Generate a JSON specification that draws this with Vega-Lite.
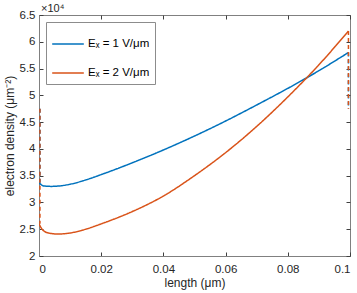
{
  "$schema": "https://vega.github.io/schema/vega-lite/v6.json",
  "width": 311,
  "height": 241,
  "autosize": "none",
  "padding": {"left": 39, "top": 15, "right": 7, "bottom": 37},
  "background": "white",
  "config": {
    "font": "Liberation Sans",
    "view": {"stroke": "#808080", "strokeWidth": 1},
    "axis": {
      "grid": false,
      "domainColor": "#808080",
      "tickColor": "#404040",
      "tickSize": -4,
      "labelColor": "#262626",
      "titleColor": "#262626",
      "labelFontSize": 11.5,
      "titleFontSize": 12,
      "titleFontWeight": "normal",
      "labelFont": "Liberation Sans",
      "titleFont": "Liberation Sans"
    }
  },
  "title": {
    "text": "×10⁴",
    "anchor": "start",
    "frame": "group",
    "fontSize": 11,
    "fontWeight": "normal",
    "color": "#262626",
    "font": "Liberation Sans",
    "offset": 3,
    "dx": 2,
    "dy": 8
  },
  "data": {
    "values": [
      {"x": 0, "y": 3.37, "series": "Eₓ = 1 V/μm", "seg": "main", "style": "solid"},
      {"x": 0.001, "y": 3.32, "series": "Eₓ = 1 V/μm", "seg": "main", "style": "solid"},
      {"x": 0.002, "y": 3.305, "series": "Eₓ = 1 V/μm", "seg": "main", "style": "solid"},
      {"x": 0.004, "y": 3.3, "series": "Eₓ = 1 V/μm", "seg": "main", "style": "solid"},
      {"x": 0.006, "y": 3.305, "series": "Eₓ = 1 V/μm", "seg": "main", "style": "solid"},
      {"x": 0.01, "y": 3.34, "series": "Eₓ = 1 V/μm", "seg": "main", "style": "solid"},
      {"x": 0.015, "y": 3.42, "series": "Eₓ = 1 V/μm", "seg": "main", "style": "solid"},
      {"x": 0.02, "y": 3.52, "series": "Eₓ = 1 V/μm", "seg": "main", "style": "solid"},
      {"x": 0.03, "y": 3.74, "series": "Eₓ = 1 V/μm", "seg": "main", "style": "solid"},
      {"x": 0.04, "y": 3.98, "series": "Eₓ = 1 V/μm", "seg": "main", "style": "solid"},
      {"x": 0.05, "y": 4.24, "series": "Eₓ = 1 V/μm", "seg": "main", "style": "solid"},
      {"x": 0.06, "y": 4.52, "series": "Eₓ = 1 V/μm", "seg": "main", "style": "solid"},
      {"x": 0.07, "y": 4.82, "series": "Eₓ = 1 V/μm", "seg": "main", "style": "solid"},
      {"x": 0.08, "y": 5.13, "series": "Eₓ = 1 V/μm", "seg": "main", "style": "solid"},
      {"x": 0.09, "y": 5.46, "series": "Eₓ = 1 V/μm", "seg": "main", "style": "solid"},
      {"x": 0.0995, "y": 5.8, "series": "Eₓ = 1 V/μm", "seg": "main", "style": "solid"},
      {"x": 0.0003, "y": 4.75, "series": "Eₓ = 1 V/μm", "seg": "left", "style": "dash"},
      {"x": 0.0003, "y": 3.37, "series": "Eₓ = 1 V/μm", "seg": "left", "style": "dash"},
      {"x": 0.0995, "y": 5.8, "series": "Eₓ = 1 V/μm", "seg": "right", "style": "dash"},
      {"x": 0.0995, "y": 4.75, "series": "Eₓ = 1 V/μm", "seg": "right", "style": "dash"},
      {"x": 0, "y": 2.6, "series": "Eₓ = 2 V/μm", "seg": "main", "style": "solid"},
      {"x": 0.001, "y": 2.5, "series": "Eₓ = 2 V/μm", "seg": "main", "style": "solid"},
      {"x": 0.003, "y": 2.43, "series": "Eₓ = 2 V/μm", "seg": "main", "style": "solid"},
      {"x": 0.006, "y": 2.41, "series": "Eₓ = 2 V/μm", "seg": "main", "style": "solid"},
      {"x": 0.01, "y": 2.43, "series": "Eₓ = 2 V/μm", "seg": "main", "style": "solid"},
      {"x": 0.015, "y": 2.5, "series": "Eₓ = 2 V/μm", "seg": "main", "style": "solid"},
      {"x": 0.02, "y": 2.6, "series": "Eₓ = 2 V/μm", "seg": "main", "style": "solid"},
      {"x": 0.03, "y": 2.83, "series": "Eₓ = 2 V/μm", "seg": "main", "style": "solid"},
      {"x": 0.04, "y": 3.12, "series": "Eₓ = 2 V/μm", "seg": "main", "style": "solid"},
      {"x": 0.05, "y": 3.5, "series": "Eₓ = 2 V/μm", "seg": "main", "style": "solid"},
      {"x": 0.06, "y": 3.93, "series": "Eₓ = 2 V/μm", "seg": "main", "style": "solid"},
      {"x": 0.07, "y": 4.42, "series": "Eₓ = 2 V/μm", "seg": "main", "style": "solid"},
      {"x": 0.08, "y": 4.97, "series": "Eₓ = 2 V/μm", "seg": "main", "style": "solid"},
      {"x": 0.09, "y": 5.57, "series": "Eₓ = 2 V/μm", "seg": "main", "style": "solid"},
      {"x": 0.0995, "y": 6.2, "series": "Eₓ = 2 V/μm", "seg": "main", "style": "solid"},
      {"x": 0.0003, "y": 4.75, "series": "Eₓ = 2 V/μm", "seg": "left", "style": "dash"},
      {"x": 0.0003, "y": 2.6, "series": "Eₓ = 2 V/μm", "seg": "left", "style": "dash"},
      {"x": 0.0995, "y": 6.2, "series": "Eₓ = 2 V/μm", "seg": "right", "style": "dash"},
      {"x": 0.0995, "y": 4.75, "series": "Eₓ = 2 V/μm", "seg": "right", "style": "dash"}
    ]
  },
  "layer": [
    {
      "mark": {"type": "line", "strokeWidth": 1.5, "clip": true, "interpolate": "monotone"},
      "encoding": {
        "x": {
          "field": "x",
          "type": "quantitative",
          "scale": {"domain": [0, 0.1], "nice": false, "zero": false},
          "axis": {"values": [0, 0.02, 0.04, 0.06, 0.08, 0.1], "format": "~g", "title": "length (μm)", "labelPadding": 11, "titlePadding": 3, "orient": "bottom"}
        },
        "y": {
          "field": "y",
          "type": "quantitative",
          "scale": {"domain": [2, 6.5], "nice": false, "zero": false},
          "axis": {"values": [2, 2.5, 3, 3.5, 4, 4.5, 5, 5.5, 6, 6.5], "format": "~g", "title": "electron density (μm⁻²)", "labelPadding": 8, "titlePadding": 3, "orient": "left"}
        },
        "color": {
          "field": "series",
          "type": "nominal",
          "scale": {"domain": ["Eₓ = 1 V/μm", "Eₓ = 2 V/μm"], "range": ["#0072BD", "#D95319"]},
          "legend": {
            "title": null,
            "orient": "top-left",
            "offset": 7,
            "padding": 5,
            "strokeColor": "#8c8c8c",
            "fillColor": "white",
            "symbolType": "stroke",
            "symbolSize": 1000,
            "symbolStrokeWidth": 1.5,
            "labelFontSize": 11.5,
            "labelColor": "#000000",
            "labelFont": "Liberation Sans",
            "labelOffset": 3,
            "labelExpr": "datum.label + '\u00a0\u00a0\u00a0\u00a0\u00a0'",
            "rowPadding": 6
          }
        },
        "strokeDash": {
          "field": "style",
          "type": "nominal",
          "scale": {"domain": ["solid", "dash"], "range": [[1, 0], [4, 3]]},
          "legend": null
        },
        "detail": {"field": "seg"}
      }
    },
    {
      "mark": {"type": "line", "opacity": 0},
      "encoding": {
        "x": {
          "field": "x",
          "type": "quantitative",
          "axis": {"values": [0, 0.02, 0.04, 0.06, 0.08, 0.1], "labels": false, "title": null, "orient": "top", "domain": false}
        },
        "y": {
          "field": "y",
          "type": "quantitative",
          "axis": {"values": [2, 2.5, 3, 3.5, 4, 4.5, 5, 5.5, 6, 6.5], "labels": false, "title": null, "orient": "right", "domain": false}
        },
        "detail": {"field": "seg"}
      }
    }
  ],
  "resolve": {"axis": {"x": "independent", "y": "independent"}}
}
